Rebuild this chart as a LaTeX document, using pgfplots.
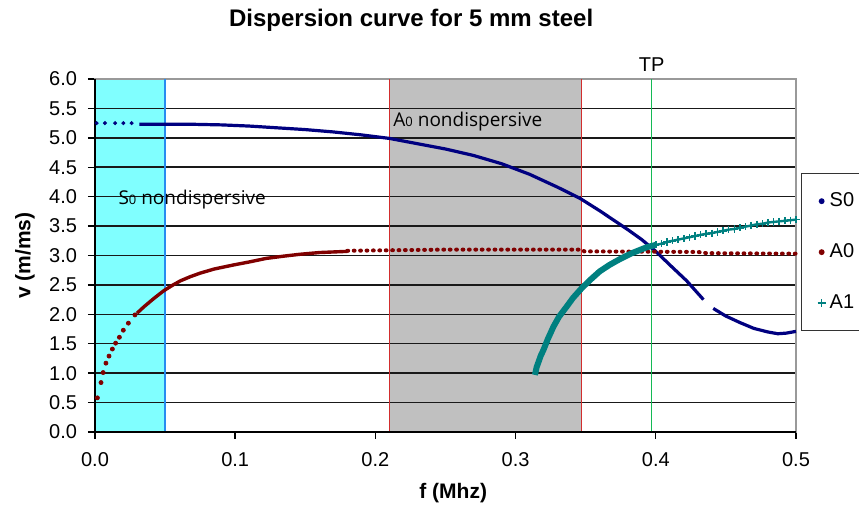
\documentclass[border=0pt]{standalone}
\usepackage{fontspec}
\setmainfont{Liberation Sans}
\newfontfamily\annfont{Open Sans}
\usepackage{pgfplots}
\pgfplotsset{compat=1.18}

\definecolor{sNavy}{RGB}{0,0,128}
\definecolor{aRed}{RGB}{128,0,0}
\definecolor{aTeal}{RGB}{0,128,128}
\definecolor{zoneCyan}{RGB}{128,255,255}
\definecolor{zoneGray}{RGB}{192,192,192}
\definecolor{edgeBlue}{RGB}{40,140,240}
\definecolor{edgeRed}{RGB}{210,45,45}
\definecolor{tpGreen}{RGB}{20,185,85}

\begin{document}
\begin{tikzpicture}
\begin{axis}[
  set layers,
  at={(0,0)}, anchor=south west,
  scale only axis, width=350.5pt, height=176.5pt,
  xmin=0, xmax=0.5, ymin=0, ymax=6,
  xtick={0,0.1,0.2,0.3,0.4,0.5},
  ytick={0,0.5,1,1.5,2,2.5,3,3.5,4,4.5,5,5.5,6},
  ymajorgrids, grid style={black!90, line width=0.75pt},
  tick align=outside, xtick pos=bottom, ytick pos=left,
  major tick length=3.5pt, tick style={black, line width=0.7pt},
  axis line style={black!40, line width=0.6pt},
  ticklabel style={font=\fontsize{10}{12}\selectfont},
  xticklabel style={yshift=-3pt},
  yticklabel style={xshift=-2pt},
  /pgf/number format/fixed, /pgf/number format/fixed zerofill,
  /pgf/number format/precision=1, /pgf/number format/assume math mode=true,
  xlabel={f (Mhz)}, ylabel={v (m/ms)},
  label style={font=\bfseries\fontsize{10.5}{12}\selectfont},
  xlabel style={at={(axis description cs:0.511,-0.173)}, anchor=center},
  ylabel style={at={(axis description cs:-0.1,0.5)}, anchor=center},
  clip=false,
  legend image code/.code={\draw[#1] plot coordinates {(0pt,0pt)};},
  legend style={at={(axis description cs:1.0071,0.7337)}, anchor=north west,
    draw=black!80, line width=0.7pt, fill=white,
    font=\fontsize{10}{12}\selectfont, row sep=13pt,
    inner xsep=8pt, inner ysep=7.5pt, legend cell align=left},
]
% nondispersive zones
\addplot[on layer=axis background, fill=zoneCyan, draw=none, forget plot]
  coordinates {(0,0) (0.05,0) (0.05,6) (0,6)} -- cycle;
\addplot[on layer=axis background, fill=zoneGray, draw=none, forget plot]
  coordinates {(0.21,0) (0.347,0) (0.347,6) (0.21,6)} -- cycle;
\addplot[edgeBlue, line width=0.8pt, forget plot] coordinates {(0.05,0) (0.05,6)};
\addplot[edgeRed, line width=0.8pt, forget plot] coordinates {(0.21,0) (0.21,6)};
\addplot[edgeRed, line width=0.8pt, forget plot] coordinates {(0.347,0) (0.347,6)};
\addplot[tpGreen, line width=0.9pt, forget plot] coordinates {(0.397,0) (0.397,6)};

% S0 mode
\addplot[only marks, mark=*, mark size=0.8pt, sNavy, forget plot] coordinates {
  (0.0012,5.25) (0.0071,5.25) (0.0143,5.25) (0.0202,5.25) (0.0261,5.25)};
\addplot[sNavy, line width=1.6pt, forget plot] coordinates {
  (0.0316,5.23) (0.05,5.23) (0.07,5.23) (0.09,5.22) (0.11,5.20) (0.13,5.17)
  (0.15,5.14) (0.17,5.10) (0.19,5.05) (0.21,4.99) (0.23,4.90) (0.25,4.81)
  (0.27,4.70) (0.29,4.56) (0.31,4.38) (0.33,4.16) (0.346,3.97) (0.36,3.76)
  (0.37,3.60) (0.38,3.44) (0.39,3.27) (0.40,3.07) (0.41,2.84) (0.422,2.57)
  (0.434,2.25)};
\addplot[sNavy, line width=1.6pt, forget plot] coordinates {
  (0.441,2.10) (0.45,1.97) (0.46,1.86) (0.47,1.76) (0.48,1.70) (0.487,1.67)
  (0.493,1.68) (0.50,1.71)};

% A0 mode
\addplot[only marks, mark=*, mark size=1pt, aRed, forget plot] coordinates {
  (0.0017,0.58) (0.0043,0.84) (0.0058,1.01) (0.0078,1.17) (0.0100,1.29)
  (0.0124,1.41) (0.0147,1.51) (0.0174,1.61) (0.0202,1.73) (0.0238,1.85)
  (0.0285,1.99)};
\addplot[aRed, line width=1.7pt, forget plot] coordinates {
  (0.030,2.02) (0.035,2.13) (0.042,2.27) (0.049,2.40) (0.055,2.49)
  (0.061,2.57) (0.068,2.64) (0.075,2.70) (0.085,2.77) (0.099,2.84)
  (0.11,2.89) (0.122,2.95) (0.135,2.99) (0.146,3.02) (0.16,3.05) (0.18,3.07)};
\addplot[aRed, line width=2pt, line cap=round, dash pattern=on 0.4pt off 2.8pt, forget plot]
  coordinates {(0.18,3.08) (0.25,3.10) (0.347,3.10) (0.349,3.07) (0.43,3.06)
  (0.436,3.04) (0.50,3.03)};

% A1 mode
\addplot[aTeal, line width=3pt, forget plot] coordinates {
  (0.3138,0.97) (0.315,1.10) (0.3165,1.20) (0.318,1.30) (0.3198,1.39)
  (0.323,1.58) (0.327,1.79) (0.331,1.96) (0.3364,2.13) (0.341,2.28)
  (0.347,2.44) (0.353,2.58) (0.360,2.73) (0.367,2.84) (0.3745,2.94)
  (0.383,3.04) (0.3935,3.14) (0.40,3.18)};
\addplot[aTeal, line width=1.2pt, mark=+, mark size=1.8pt, mark options={line width=0.8pt}, forget plot]
  coordinates {(0.40,3.18) (0.404,3.20) (0.408,3.23) (0.412,3.25) (0.416,3.27)
  (0.42,3.29) (0.424,3.31) (0.428,3.33) (0.432,3.35) (0.436,3.37) (0.44,3.38)
  (0.444,3.40) (0.448,3.42) (0.452,3.44) (0.456,3.45) (0.46,3.47) (0.464,3.49)
  (0.468,3.51) (0.472,3.53) (0.476,3.54) (0.48,3.56) (0.484,3.57) (0.488,3.58)
  (0.492,3.59) (0.496,3.60) (0.50,3.61)};

\addlegendimage{only marks, mark=*, mark size=1.1pt, sNavy}
\addlegendentry{S0}
\addlegendimage{only marks, mark=*, mark size=1.1pt, aRed}
\addlegendentry{A0}
\addlegendimage{only marks, mark=+, mark size=2pt, aTeal}
\addlegendentry{A1}

% solid left and bottom axis lines
\draw[black, line width=0.7pt] (rel axis cs:0,1) -- (rel axis cs:0,0) -- (rel axis cs:1,0);

\node[font=\bfseries\fontsize{12}{14}\selectfont] at (axis description cs:0.451,1.167)
  {Dispersion curve for 5 mm steel};
\node[font=\fontsize{10}{12}\selectfont] at (axis cs:0.397,6.24) {TP};
\node[anchor=west, inner sep=0pt, font=\annfont\fontsize{9.5}{11}\selectfont]
  at (axis cs:0.0165,3.95) {S{\fontsize{6.5}{7}\selectfont 0} nondispersive};
\node[anchor=west, inner sep=0pt, font=\annfont\fontsize{9.5}{11}\selectfont]
  at (axis cs:0.2126,5.27) {A{\fontsize{6.5}{7}\selectfont 0} nondispersive};
\end{axis}
\pgfresetboundingbox
\path[use as bounding box] (-47.5pt,-37pt) rectangle (382pt,216pt);
\end{tikzpicture}
\end{document}
